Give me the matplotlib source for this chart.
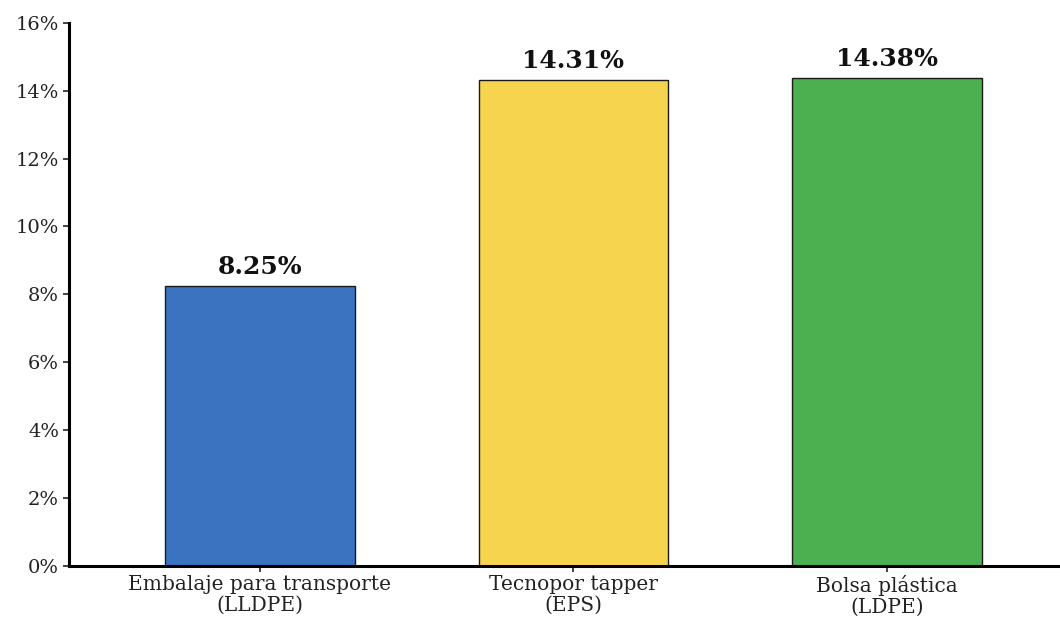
import matplotlib.pyplot as plt
from matplotlib.ticker import FuncFormatter

# Porcentaje de cada tipo de empaque
categorias = ["Embalaje para transporte\n(LLDPE)", "Tecnopor tapper\n(EPS)", "Bolsa plástica\n(LDPE)"]
porcentajes = [8.25, 14.31, 14.38]
colores = ["#3B73C0", "#F7D44E", "#4CAF50"]

plt.rcParams['font.family'] = ['DejaVu Serif']

fig = plt.figure(figsize=(10.6, 6.19), dpi=100)
ax = fig.add_axes([0.065, 0.086, 0.935, 0.877])

x = range(len(categorias))
barras = ax.bar(x, porcentajes, width=0.605, color=colores, edgecolor='#1a1a1a', linewidth=1.0)

for b, v in zip(barras, porcentajes):
    ax.text(b.get_x() + b.get_width() / 2, v + 0.2, f"{v:.2f}%",
            ha='center', va='bottom', fontsize=18, fontweight='bold', color='#111111')

ax.set_xlim(-0.609, 2.552)
ax.set_ylim(0, 16)
ax.set_yticks(range(0, 17, 2))
ax.yaxis.set_major_formatter(FuncFormatter(lambda v, p: f"{v:.0f}%"))
ax.set_xticks(list(x))
ax.set_xticklabels(categorias, fontsize=14.5, linespacing=1.1)
ax.tick_params(axis='y', labelsize=14, length=4, width=1.2, colors='#222222', pad=3)
ax.tick_params(axis='x', length=4, width=1.2, colors='#222222', pad=3)

ax.spines['top'].set_visible(False)
ax.spines['right'].set_visible(False)
ax.spines['left'].set_linewidth(2.2)
ax.spines['bottom'].set_linewidth(2.2)

fig.savefig("out.png", dpi=100)
